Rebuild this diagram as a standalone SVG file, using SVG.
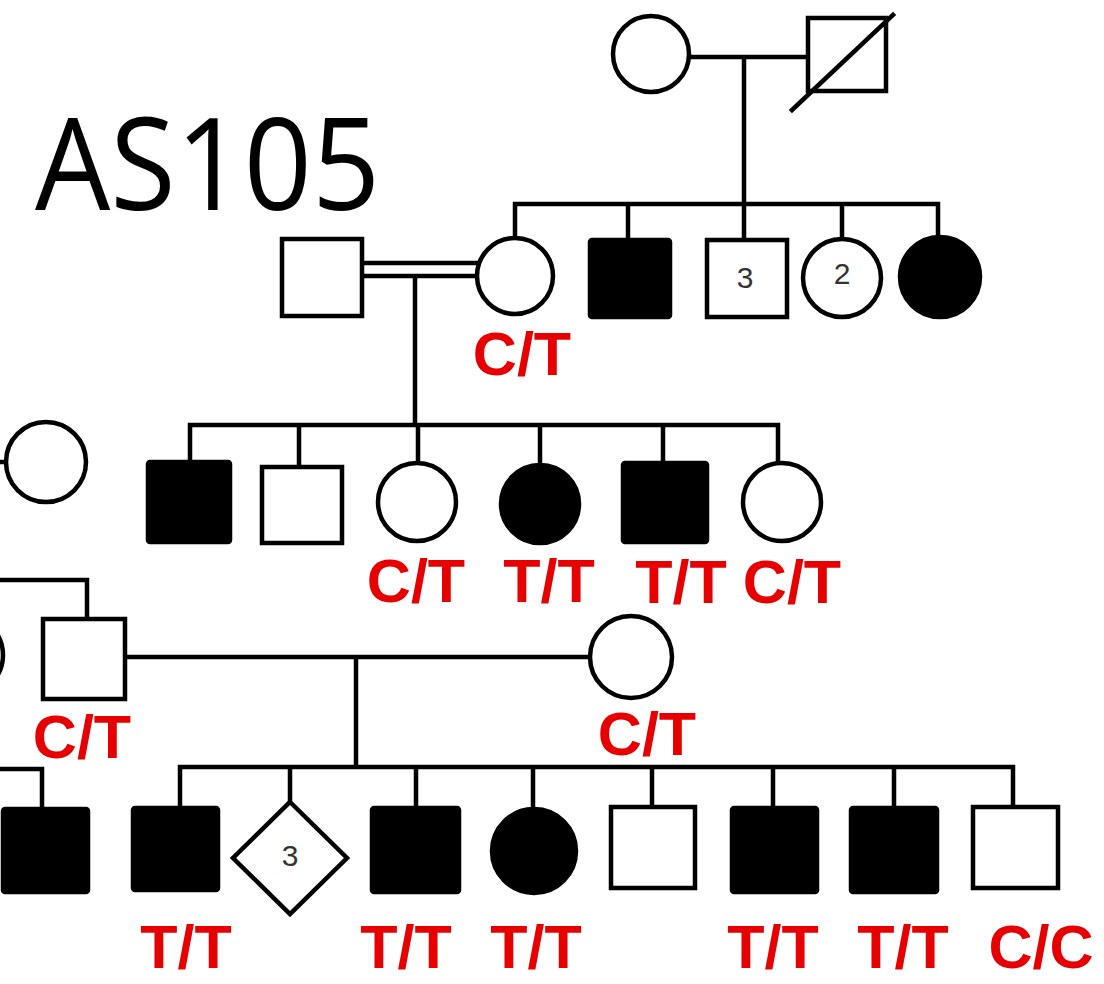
<svg xmlns="http://www.w3.org/2000/svg" width="1104" height="984" viewBox="0 0 1104 984">
<style>
.o{fill:#fff;stroke:#000;stroke-width:4.5}
.f{fill:#000;stroke:#000;stroke-width:4.5}
.l{fill:none;stroke:#000;stroke-width:4.5;stroke-linecap:square}
.g{font-family:"Liberation Sans",Arial,sans-serif;font-weight:bold;font-size:61px;fill:#e60000;text-anchor:middle}
.n{font-family:"Liberation Sans",Arial,sans-serif;font-size:30px;fill:#333;text-anchor:middle}
</style>
<rect width="1104" height="984" fill="#fff"/>
<text x="35" y="210" font-family="'Open Sans','Liberation Sans',sans-serif" font-weight="500" font-size="129" fill="#000" textLength="345" lengthAdjust="spacingAndGlyphs">AS105</text>
<g id="connectors">
<path class="l" d="M690 57H808M744 57V204M515 204H938M515 204V238M628 204V240M744 204V240M842 204V240M938 204V237"/>
<path class="l" d="M362 263H477M362 276H477M415 276V425M190 425H778M190 425V462M299 425V467M418 425V463M540 425V465M663 425V463M778 425V462"/>
<path class="l" d="M0 462H5"/>
<path class="l" d="M0 580H87V619"/>
<path class="l" d="M125 657H590M356 657V767M180 767H1013M180 767V808M290 767V802M416 767V808M533 767V809M652 767V807M773 767V808M894 767V808M1013 767V807"/>
<path class="l" d="M0 769H42V809"/>
</g>
<g id="gp-mother"><circle class="o" cx="651" cy="54" r="38"/></g>
<g id="gp-father"><rect class="o" x="808" y="18" width="78" height="73"/><path class="l" d="M792 110L893 15"/></g>
<g id="ii-husband"><rect class="o" x="282" y="239" width="80" height="77"/></g>
<g id="ii-wife"><circle class="o" cx="515" cy="276" r="38"/><text class="g" x="522" y="375">C/T</text></g>
<g id="ii-3"><rect class="f" x="590" y="240" width="80" height="77" rx="2"/></g>
<g id="ii-4"><rect class="o" x="707" y="240" width="80" height="77"/><text class="n" x="745" y="288">3</text></g>
<g id="ii-5"><circle class="o" cx="842" cy="278" r="39"/><text class="n" x="842" y="284">2</text></g>
<g id="ii-6"><circle class="f" cx="940" cy="277" r="40"/></g>
<g id="iii-spouse"><circle class="o" cx="46" cy="462" r="40"/></g>
<g id="iii-1"><rect class="f" x="148" y="462" width="82" height="80" rx="2"/></g>
<g id="iii-2"><rect class="o" x="262" y="467" width="80" height="76"/></g>
<g id="iii-3"><circle class="o" cx="417" cy="502" r="39"/><text class="g" x="416" y="602">C/T</text></g>
<g id="iii-4"><circle class="f" cx="540" cy="504" r="39"/><text class="g" x="549" y="602">T/T</text></g>
<g id="iii-5"><rect class="f" x="623" y="463" width="84" height="79" rx="2"/><text class="g" x="681" y="603">T/T</text></g>
<g id="iii-6"><circle class="o" cx="782" cy="502" r="39"/><text class="g" x="792" y="603">C/T</text></g>
<g id="iii-left"><circle class="o" cx="-37" cy="655" r="40"/></g>
<g id="iii-man"><rect class="o" x="43" y="619" width="82" height="80"/><text class="g" x="82" y="758">C/T</text></g>
<g id="iii-woman"><circle class="o" cx="631" cy="657" r="41"/><text class="g" x="647" y="755">C/T</text></g>
<g id="iv-left"><rect class="f" x="3" y="809" width="85" height="83" rx="2"/></g>
<g id="iv-1"><rect class="f" x="133" y="808" width="85" height="82" rx="2"/><text class="g" x="186" y="968">T/T</text></g>
<g id="iv-2"><path class="o" d="M290 802L347 858L290 914L233 858Z"/><text class="n" x="290" y="866">3</text></g>
<g id="iv-3"><rect class="f" x="372" y="808" width="87" height="84" rx="2"/><text class="g" x="406" y="968">T/T</text></g>
<g id="iv-4"><circle class="f" cx="534" cy="851" r="42"/><text class="g" x="536" y="968">T/T</text></g>
<g id="iv-5"><rect class="o" x="611" y="807" width="84" height="81"/></g>
<g id="iv-6"><rect class="f" x="732" y="808" width="85" height="84" rx="2"/><text class="g" x="773" y="968">T/T</text></g>
<g id="iv-7"><rect class="f" x="851" y="808" width="86" height="84" rx="2"/><text class="g" x="903" y="968">T/T</text></g>
<g id="iv-8"><rect class="o" x="973" y="807" width="85" height="81"/><text class="g" x="1041" y="968">C/C</text></g>
</svg>
